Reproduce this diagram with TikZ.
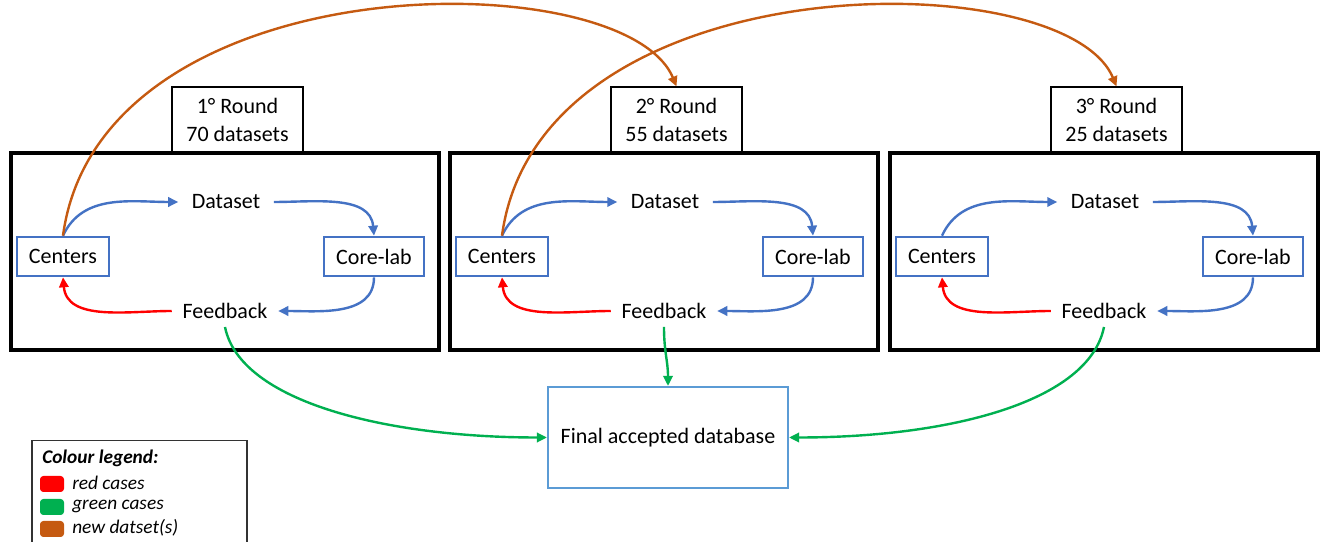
\documentclass[tikz,border=0pt]{standalone}
\usepackage{fontspec}
\setmainfont{Carlito}
\usetikzlibrary{arrows.meta}
\definecolor{bl}{HTML}{4472C4}
\definecolor{lbl}{HTML}{5B9BD5}
\definecolor{rd}{HTML}{FF0000}
\definecolor{gr}{HTML}{00B050}
\definecolor{og}{HTML}{C55A11}
\begin{document}
\begin{tikzpicture}[x=0.75pt,y=0.75pt,
  roundbox/.style={draw=black,line width=2.5pt,minimum width=321pt,minimum height=147.75pt,inner sep=0pt},
  labelbox/.style={draw=black,line width=0.9pt,fill=white,minimum width=98.25pt,minimum height=49.5pt,inner sep=0pt,align=center,font=\fontsize{16.5}{20.5}\selectfont},
  actor/.style={draw=bl,line width=2pt,minimum height=29.25pt,inner sep=0pt,font=\fontsize{16.5}{18}\selectfont},
  word/.style={inner xsep=10pt,inner ysep=6pt,font=\fontsize{16.5}{18}\selectfont},
  bluearr/.style={draw=bl,line width=1.8pt,-{Triangle[length=7.5pt,width=7pt]}},
  redarr/.style={draw=rd,line width=1.8pt,-{Triangle[length=7.5pt,width=7pt]}},
  grarr/.style={draw=gr,line width=1.8pt,-{Triangle[length=7.5pt,width=7pt]}},
  orarr/.style={draw=og,line width=1.8pt,-{Triangle[length=7.5pt,width=7pt]}},
  swatch/.style={rounded corners=2.5pt,minimum width=18pt,minimum height=12pt,inner sep=0pt},
  legtext/.style={anchor=west,inner sep=0pt,font=\fontsize{14.5}{16}\itshape}
]
\useasboundingbox (0,0) rectangle (1322,542);
\clip (0,0) rectangle (1322,542);

\foreach \i/\dx/\n in {1/0/70, 2/439/55, 3/879/25}{
  \node[labelbox] (l\i) at (237.5+\dx,422) {\i° Round\\\n{} datasets};
  \node[roundbox] (r\i) at (225+\dx,290.5) {};
  \node[actor,minimum width=69pt] (c\i) at (63+\dx,285.5) {Centers};
  \node[actor,minimum width=75pt] (k\i) at (374+\dx,285.5) {Core-lab};
  \node[word] (d\i) at (226+\dx,340) {Dataset};
  \node[word,inner xsep=8pt] (f\i) at (225+\dx,231) {Feedback};
  \draw[bluearr] (c\i.north) to[out=65,in=180] (d\i.west);
  \draw[bluearr] (d\i.east) to[out=0,in=95] (k\i.north);
  \draw[bluearr] (k\i.south) to[out=-90,in=0] (f\i.east);
  \draw[redarr] (f\i.west) to[out=180,in=-85] (c\i.south);
}

\node[draw=lbl,line width=1.6pt,minimum width=180pt,minimum height=75.75pt,inner sep=0pt,font=\fontsize{16.5}{18}\selectfont] (fin) at (668,104.5) {Final accepted database};

\draw[orarr] (c1.north) .. controls +(37,275) and +(-52,125) .. (l2.north);
\draw[orarr] (c2.north) .. controls +(37,275) and +(-52,125) .. (l3.north);

\draw[grarr] (f1.south) .. controls +(15,-75) and +(-160,0) .. (fin.west);
\draw[grarr] (f2.south) .. controls +(0,-25) and +(0,25) .. (fin.north);
\draw[grarr] (f3.south) .. controls +(-15,-75) and +(160,0) .. (fin.east);

\node[draw=black!80,line width=0.9pt,minimum width=161.25pt,minimum height=80pt,inner sep=0pt] (leg) at (139.5,48.5) {};
\node[anchor=west,inner sep=0pt,font=\fontsize{14.5}{16}\bfseries\itshape] (legt) at (42,84) {Colour legend:};
\node[swatch,fill=rd] (s1) at (52,58) {};
\node[swatch,fill=gr] (s2) at (52,35) {};
\node[swatch,fill=og] (s3) at (52,13) {};
\node[legtext] (t1) at (72,59) {red cases};
\node[legtext] (t2) at (72,36) {green cases};
\node[legtext] (t3) at (72,14) {new datset(s)};
\end{tikzpicture}
\end{document}
